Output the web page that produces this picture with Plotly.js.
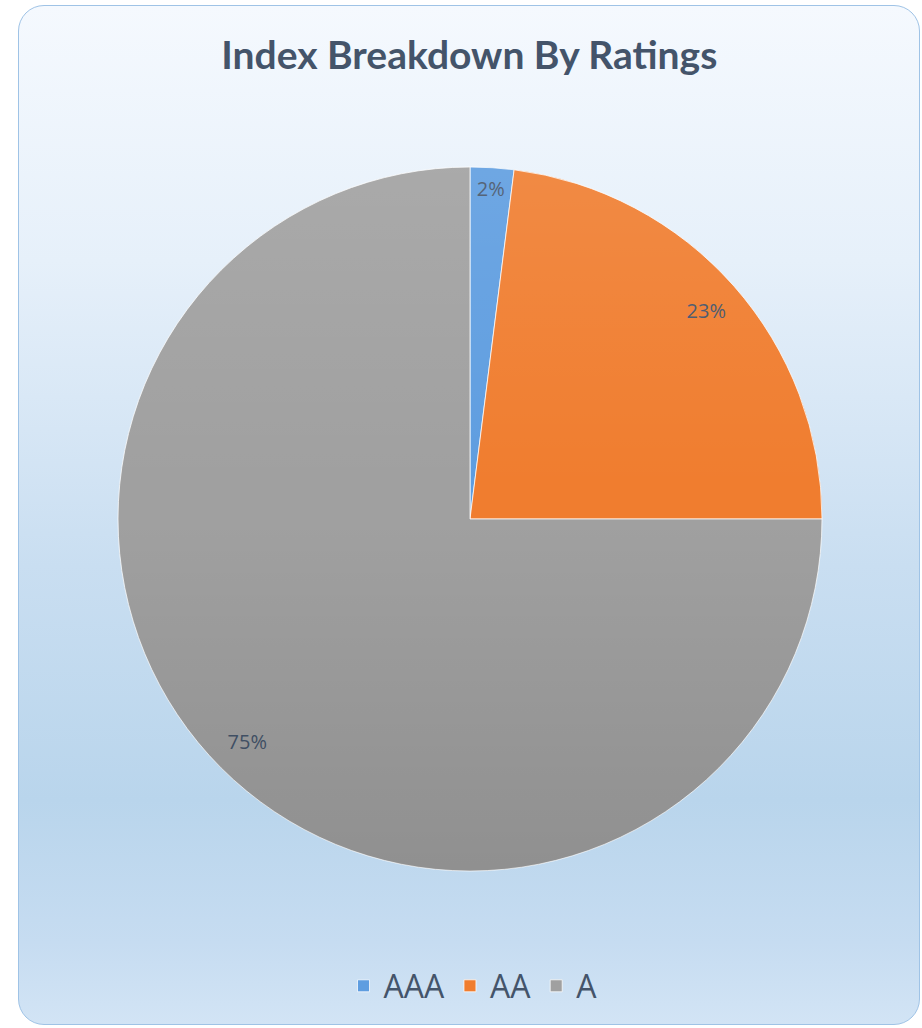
<!DOCTYPE html>
<html>
<head>
<meta charset="utf-8">
<script src="https://cdn.plot.ly/plotly-3.0.1.min.js"></script>
<style>
  html, body { margin: 0; padding: 0; width: 922px; height: 1028px; overflow: hidden; background: #ffffff; }
  #frame {
    position: absolute; left: 18px; top: 5px; width: 902px; height: 1020px;
    border: 1.5px solid #9fc3e6; border-radius: 26px; box-sizing: border-box;
    background: linear-gradient(to bottom, #f5f9fe 0%, #e6f0fa 25%, #c9def1 55%, #b9d5ec 78%, #c6dcf1 92%, #d2e4f5 100%);
  }
  #chart { position: absolute; left: 0; top: 0; width: 922px; height: 1028px; }
  #shade {
    position: absolute; left: 118px; top: 167px; width: 704px; height: 704px; border-radius: 50%;
    background: linear-gradient(to bottom, rgba(255,255,255,0.10), rgba(255,255,255,0) 45%, rgba(0,0,0,0) 50%, rgba(0,0,0,0.10));
    pointer-events: none;
  }
</style>
</head>
<body>
<div id="frame"></div>
<div id="chart"></div>
<div id="shade"></div>
<script>
const categories = ["AAA", "AA", "A"];
const shares = [2, 23, 75];
const sliceColors = ["#5e9de0", "#f07d2f", "#a0a0a0"];
const chartTitle = "Index Breakdown By Ratings";

const W = 922, H = 1028;
const cx = 470, cy = 519, R = 352;
const pieDomain = { x: [(cx - R) / W, (cx + R) / W], y: [(H - cy - R) / H, (H - cy + R) / H] };

// solid pie (slices, legend)
const slices = {
  type: "pie",
  labels: categories,
  values: shares,
  sort: false,
  direction: "clockwise",
  rotation: 0,
  marker: { colors: sliceColors, line: { color: "rgba(255,255,255,0.75)", width: 1 } },
  textinfo: "none",
  hoverinfo: "label+percent",
  domain: pieDomain
};

// transparent ring carrying the percentage labels near the outer edge
const labelsRing = {
  type: "pie",
  labels: categories,
  values: shares,
  sort: false,
  direction: "clockwise",
  rotation: 0,
  hole: 0.79,
  showlegend: false,
  marker: { colors: ["rgba(0,0,0,0)", "rgba(0,0,0,0)", "rgba(0,0,0,0)"], line: { width: 0 } },
  texttemplate: "%{percent:.0%}",
  textposition: "inside",
  insidetextorientation: "horizontal",
  textfont: { family: "Open Sans, sans-serif", size: 20, color: "#44546a" },
  hoverinfo: "skip",
  domain: pieDomain
};

const layout = {
  width: W, height: H,
  margin: { l: 0, r: 0, t: 0, b: 0 },
  paper_bgcolor: "rgba(0,0,0,0)",
  plot_bgcolor: "rgba(0,0,0,0)",
  title: {
    text: "<b>" + chartTitle + "</b>",
    font: { family: "Lato, Open Sans, sans-serif", size: 39, color: "#44546a" },
    x: 0.509, xanchor: "center", y: 1 - 55 / H, yanchor: "middle"
  },
  showlegend: true,
  legend: {
    orientation: "h",
    x: 0.513, xanchor: "center", y: 1 - 986 / H, yanchor: "middle",
    font: { family: "Open Sans, sans-serif", size: 32, color: "#44546a" },
    bgcolor: "rgba(0,0,0,0)",
    traceorder: "normal"
  }
};

Plotly.newPlot("chart", [slices, labelsRing], layout, { displayModeBar: false, staticPlot: true });
</script>
</body>
</html>
